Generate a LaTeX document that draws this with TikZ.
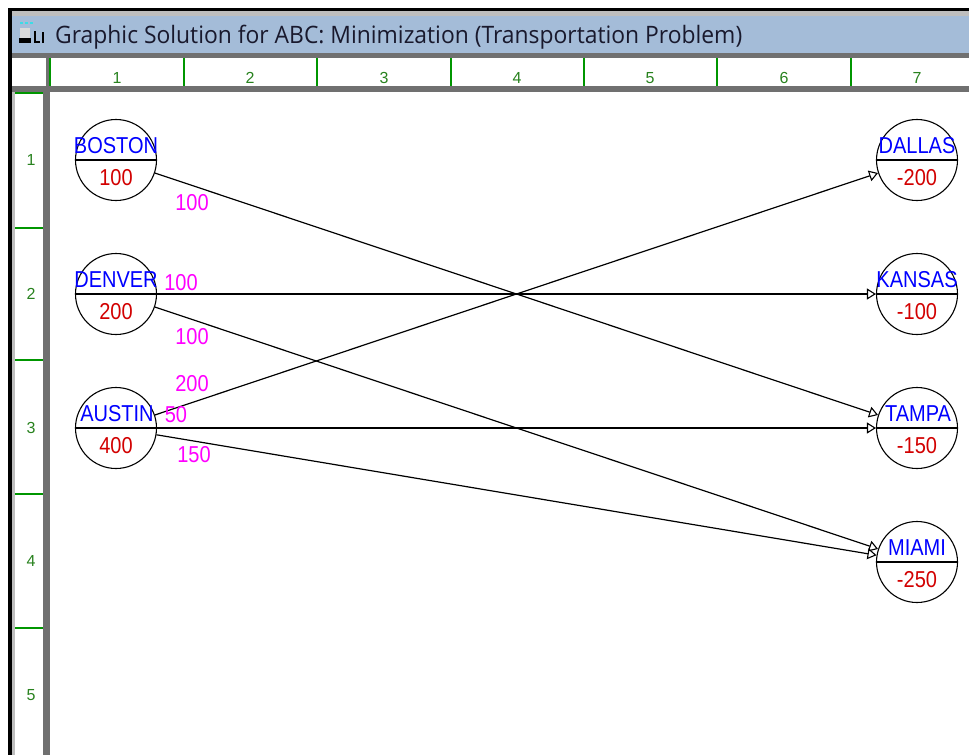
\documentclass[tikz,border=0pt]{standalone}
\usepackage{fontspec}
\usepackage{graphicx}
\usetikzlibrary{arrows.meta}
\newfontfamily\msfont[FakeStretch=0.87]{Liberation Sans}
\newfontfamily\numfont{Liberation Sans}
\newfontfamily\uifont{Open Sans}
\definecolor{namecol}{RGB}{0,0,255}
\definecolor{valcol}{RGB}{210,0,0}
\definecolor{flowcol}{RGB}{255,0,255}
\definecolor{titlebar}{RGB}{164,188,216}
\definecolor{titletext}{RGB}{25,25,45}
\definecolor{rulergray}{RGB}{112,112,112}
\definecolor{lightgray}{RGB}{190,190,190}
\definecolor{gridgreen}{RGB}{0,150,0}
\definecolor{numgreen}{RGB}{40,130,30}
\definecolor{iconcyan}{RGB}{60,220,230}
\tikzset{
  city/.style={circle, draw=black, line width=1.1pt, minimum size=81pt, inner sep=0pt},
  divider/.style={draw=black, line width=1.8pt},
  cname/.style={text=namecol, font=\msfont\fontsize{23}{23}\selectfont, anchor=base, inner sep=0pt},
  cval/.style={text=valcol, font=\msfont\fontsize{23}{23}\selectfont, anchor=base, inner sep=0pt},
  flow/.style={text=flowcol, font=\msfont\fontsize{23}{23}\selectfont, inner sep=0pt},
  route/.style={draw=black, line width=1.2pt, -{Triangle[open, length=9pt, width=11pt, line width=1.1pt]}},
  rulernum/.style={text=numgreen, font=\numfont\fontsize{16}{16}\selectfont, inner sep=0pt},
  gridline/.style={draw=gridgreen, line width=1.5pt},
}
\begin{document}
\begin{tikzpicture}[x=1pt,y=-1pt]
\useasboundingbox (0,0) rectangle (969,755);
\fill[white] (0,0) rectangle (969,755);
% window frame
\fill[black] (8,8) rectangle (969,11);
\fill[black] (8,8) rectangle (12,755);
\fill[lightgray] (12,11) rectangle (969,16);
\fill[titlebar] (12,16) rectangle (969,53);
\fill[rulergray] (12,53) rectangle (969,58);
\fill[white] (12,58) rectangle (969,86);
\fill[rulergray] (12,86) rectangle (969,92);
\fill[lightgray] (12,92) rectangle (15,755);
\fill[rulergray] (43,86) rectangle (50,755);
\fill[rulergray] (46,58) rectangle (50,86);
% icon
\draw[iconcyan, line width=2pt, dash pattern=on 3pt off 2pt] (20,23) -- (33,23);
\fill[black!15] (20,28) rectangle (30,38);
\fill[black] (19,38) rectangle (31,43);
\fill[black] (34,31) rectangle (36,43);
\fill[black] (34,41) rectangle (40,43);
\fill[black] (42,32) rectangle (44,43);
% title
\node[anchor=base west, inner sep=0pt, text=titletext] (title) at (55,43)
  {\resizebox{687pt}{\height}{\uifont\fontsize{24}{24}\selectfont Graphic Solution for ABC: Minimization (Transportation Problem)}};
% column ruler
\foreach \x in {50,184,317,451,584,717,851} { \draw[gridline] (\x,58) -- (\x,86); }
\foreach \n/\x in {1/117,2/250,3/384,4/517,5/650,6/784,7/917} {
  \node[rulernum] (col\n) at (\x,78) {\n};
}
% row ruler
\foreach \y in {93,228,360,494,628} { \draw[gridline] (15,\y) -- (43,\y); }
\foreach \n/\y in {1/160,2/294,3/428,4/561,5/695} {
  \node[rulernum] (row\n) at (31,\y) {\n};
}
% cities
\node[city] (boston) at (116,160) {};
\node[city] (denver) at (116,294) {};
\node[city] (austin) at (116,428) {};
\node[city] (dallas) at (917,160) {};
\node[city] (kansas) at (917,294) {};
\node[city] (tampa)  at (917,428) {};
\node[city] (miami)  at (917,562) {};
\foreach \c in {boston,denver,austin,dallas,kansas,tampa,miami} {
  \draw[divider] (\c.west) -- (\c.east);
}
% routes
\draw[route] (boston) -- (tampa);
\draw[route] (denver) -- (kansas);
\draw[route] (denver) -- (miami);
\draw[route] (austin) -- (dallas);
\draw[route] (austin) -- (tampa);
\draw[route] (austin) -- (miami);
% names and values
\node[cname] (bostonname) at (116,153) {BOSTON};
\node[cval]  (bostonval)  at (116,185) {100};
\node[cname] (denvername) at (116,287) {DENVER};
\node[cval]  (denverval)  at (116,319) {200};
\node[cname] (austinname) at (117,421) {AUSTIN};
\node[cval]  (austinval)  at (116,453) {400};
\node[cname] (dallasname) at (917,153) {DALLAS};
\node[cval]  (dallasval)  at (917,185) {-200};
\node[cname] (kansasname) at (917,287) {KANSAS};
\node[cval]  (kansasval)  at (917,319) {-100};
\node[cname] (tamponame)  at (918,421) {TAMPA};
\node[cval]  (tampaval)   at (917,453) {-150};
\node[cname] (miaminame)  at (917,555) {MIAMI};
\node[cval]  (miamival)   at (917,587) {-250};
% flows
\node[flow] (f1) at (192,203) {100};
\node[flow] (f2) at (181,283) {100};
\node[flow] (f3) at (192,337) {100};
\node[flow] (f4) at (192,384) {200};
\node[flow] (f5) at (176,415) {50};
\node[flow] (f6) at (194,455) {150};
\end{tikzpicture}
\end{document}
